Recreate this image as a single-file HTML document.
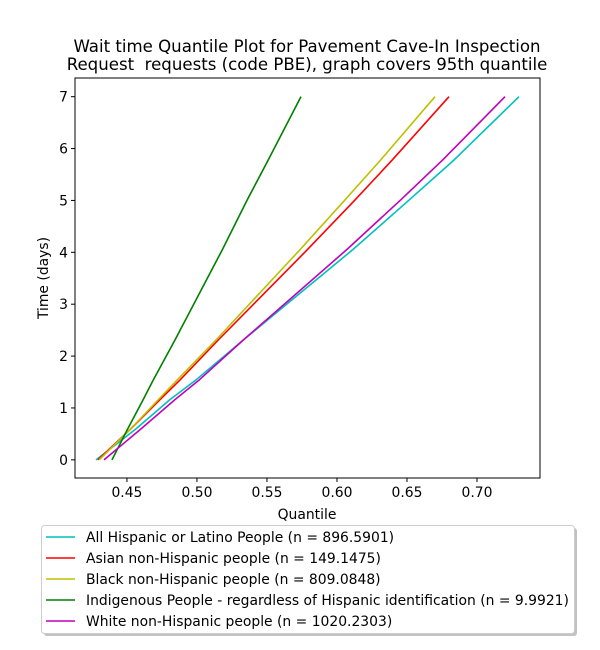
<!DOCTYPE html>
<html><head><meta charset="utf-8"><style>
html,body{margin:0;padding:0;background:#fff;}
svg{display:block;font-family:"DejaVu Sans","Liberation Sans",sans-serif;}
</style></head><body>
<svg id="chart" width="600" height="650" viewBox="0 0 600 650">
<rect width="600" height="650" fill="#fff"/>
<text x="307" y="52" font-size="16.6" text-anchor="middle">Wait time Quantile Plot for Pavement Cave-In Inspection</text>
<text x="307" y="70" font-size="16.6" text-anchor="middle" xml:space="preserve">Request  requests (code PBE), graph covers 95th quantile</text>
<g id="plot"></g>
<g id="axes"></g>
<text x="307" y="519" font-size="13.9" text-anchor="middle">Quantile</text>
<text x="0" y="0" font-size="13.9" text-anchor="middle" transform="translate(48,278) rotate(-90)">Time (days)</text>
<g>
<rect x="44" y="528" width="533" height="108" rx="3" fill="#999" opacity="0.6"/>
<rect x="41.5" y="525.5" width="533" height="108" rx="3" fill="#fff" stroke="#ccc"/>
<g id="legend-items"></g>
</g>
</svg>
<script>
const days = [0,0.58,1.16,1.54,2.31,4.05,5.01,5.78,7];
const seriesNames = ["All Hispanic or Latino People (n = 896.5901)","Asian non-Hispanic people (n = 149.1475)","Black non-Hispanic people (n = 809.0848)","Indigenous People - regardless of Hispanic identification (n = 9.9921)","White non-Hispanic people (n = 1020.2303)"];
const hispanicQ = [0.4279,0.4557,0.4807,0.4993,0.5331,0.6112,0.6516,0.6836,0.7300];
const asianQ = [0.4293,0.4521,0.4736,0.4879,0.5152,0.5788,0.6129,0.6395,0.6800];
const blackQ = [0.4302,0.4521,0.4724,0.4859,0.5136,0.5736,0.6057,0.6312,0.6700];
const indigenousQ = [0.4393,0.4502,0.4616,0.4688,0.4843,0.5181,0.5359,0.5509,0.5743];
const whiteQ = [0.4336,0.4593,0.4843,0.5016,0.5331,0.6069,0.6455,0.6755,0.7200];
const xTicks = [0.45,0.50,0.55,0.60,0.65,0.70];
const xTickLabels = ["0.45","0.50","0.55","0.60","0.65","0.70"];
const yTicks = [0,1,2,3,4,5,6,7];

const colors = ["#00bfbf","#ff0000","#bfbf00","#008000","#bf00bf"];
const allSeries = [hispanicQ, asianQ, blackQ, indigenousQ, whiteQ];
const seriesKeys = ["hispanic","asian","black","indigenous","white"];
const L=75, R=540, T=78, B=478;
const x0=0.4129, x1=0.745, y0=-0.35, y1=7.36;
function sx(v){return L+(v-x0)/(x1-x0)*(R-L);}
function sy(v){return B-(v-y0)/(y1-y0)*(B-T);}
const NS="http://www.w3.org/2000/svg";
function mk(tag, attrs, parent){const e=document.createElementNS(NS,tag);for(const k in attrs)e.setAttribute(k,attrs[k]);parent.appendChild(e);return e;}
const plot=document.getElementById('plot'), axes=document.getElementById('axes');
allSeries.forEach((s,i)=>{
  const p=mk('polyline',{points:s.map((q,j)=>sx(q)+','+sy(days[j])).join(' '),fill:'none',stroke:colors[i],'stroke-width':1.6,'stroke-linejoin':'round'},plot);
  
  
});
const frame=mk('rect',{x:L,y:T,width:R-L,height:B-T,fill:'none',stroke:'#000','stroke-width':1},axes);


xTicks.forEach((t,i)=>{
  const x=sx(t);
  mk('line',{x1:x,x2:x,y1:B,y2:B+4,stroke:'#000'},axes);
  const tx=mk('text',{x:x,y:B+19,'font-size':13.9,'text-anchor':'middle'},axes);
  tx.textContent=xTickLabels[i];
  
  
});
yTicks.forEach(t=>{
  const y=sy(t);
  mk('line',{x1:L-4,x2:L,y1:y,y2:y,stroke:'#000'},axes);
  const tx=mk('text',{x:L-7,y:y+5,'font-size':13.9,'text-anchor':'end'},axes);
  tx.textContent=String(t);
  
  
});
const li=document.getElementById('legend-items');
seriesNames.forEach((n,i)=>{
  const y=537+i*21;
  const g=mk('g',{},li);
  
  
  mk('line',{x1:46,x2:75,y1:y,y2:y,stroke:colors[i],'stroke-width':1.6},g);
  const t=mk('text',{x:86,y:y+5,'font-size':13.9},g);
  t.textContent=n;
});
</script>
</body></html>
